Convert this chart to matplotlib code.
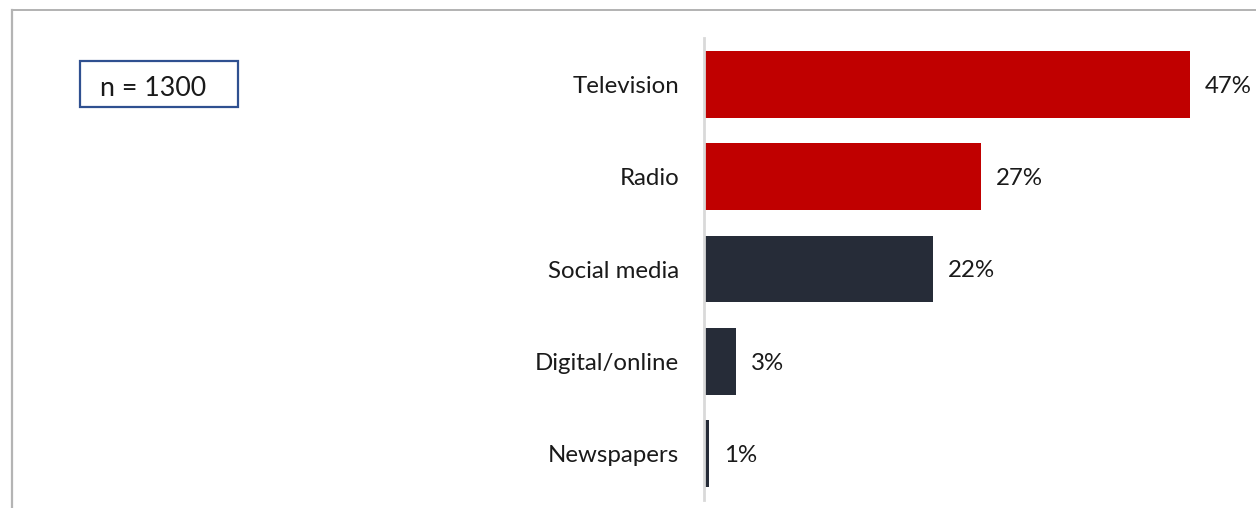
import matplotlib
matplotlib.use("Agg")
import matplotlib.pyplot as plt
from matplotlib.patches import Rectangle
from matplotlib.lines import Line2D

categories = ["Television", "Radio", "Social media", "Digital/online", "Newspapers"]
pct_values = [47, 26.8, 22.1, 3.1, 0.5]
value_labels = ["47%", "27%", "22%", "3%", "1%"]
bar_colors = ["#c00000", "#c00000", "#262c38", "#262c38", "#262c38"]
sample_note = "n = 1300"

plt.rcParams['font.family'] = ['Lato', 'DejaVu Sans']

W, H = 1256, 508
fig = plt.figure(figsize=(W / 100, H / 100), dpi=100)

# frame lines (top and left)
fig.add_artist(Line2D([11.5 / W, 1.0], [1 - 9.5 / H, 1 - 9.5 / H], color="#a6a6a6", lw=1.2))
fig.add_artist(Line2D([11.5 / W, 11.5 / W], [0, 1 - 9.5 / H], color="#b4b4b4", lw=1.6))

# axes: zero at x=704, 10.34 px per percent
x0, px_per = 704, 10.34
xmax = 50
ax_w = xmax * px_per
y_top, y_bot = 38, 500
ax = fig.add_axes([x0 / W, 1 - y_bot / H, ax_w / W, (y_bot - y_top) / H])
ypos = list(range(len(categories)))
ax.barh(ypos, pct_values, height=0.725, color=bar_colors, zorder=2)
ax.set_xlim(0, xmax)
ax.set_ylim(len(categories) - 0.5, -0.5)
for s in ["top", "right", "bottom"]:
    ax.spines[s].set_visible(False)
ax.spines["left"].set_color("#d9d9d9")
ax.spines["left"].set_linewidth(2)
ax.set_xticks([])
ax.set_yticks(ypos)
ax.set_yticklabels(categories, fontsize=17.3, color="#1a1a1a")
ax.tick_params(axis="y", length=0, pad=18)
for y, v, lab in zip(ypos, pct_values, value_labels):
    ax.text(v + 1.45, y + 0.02, lab, va="center", ha="left", fontsize=17.3, color="#1a1a1a")

# n box
fig.add_artist(Rectangle((80 / W, 1 - 107 / H), 158 / W, 46 / H, fill=False,
                         edgecolor="#2f5090", lw=1.6, transform=fig.transFigure))
fig.text(100 / W, 1 - 88 / H, sample_note, ha="left", va="center", fontsize=19.3, color="#1a1a1a")

fig.savefig("out.png", dpi=100)
